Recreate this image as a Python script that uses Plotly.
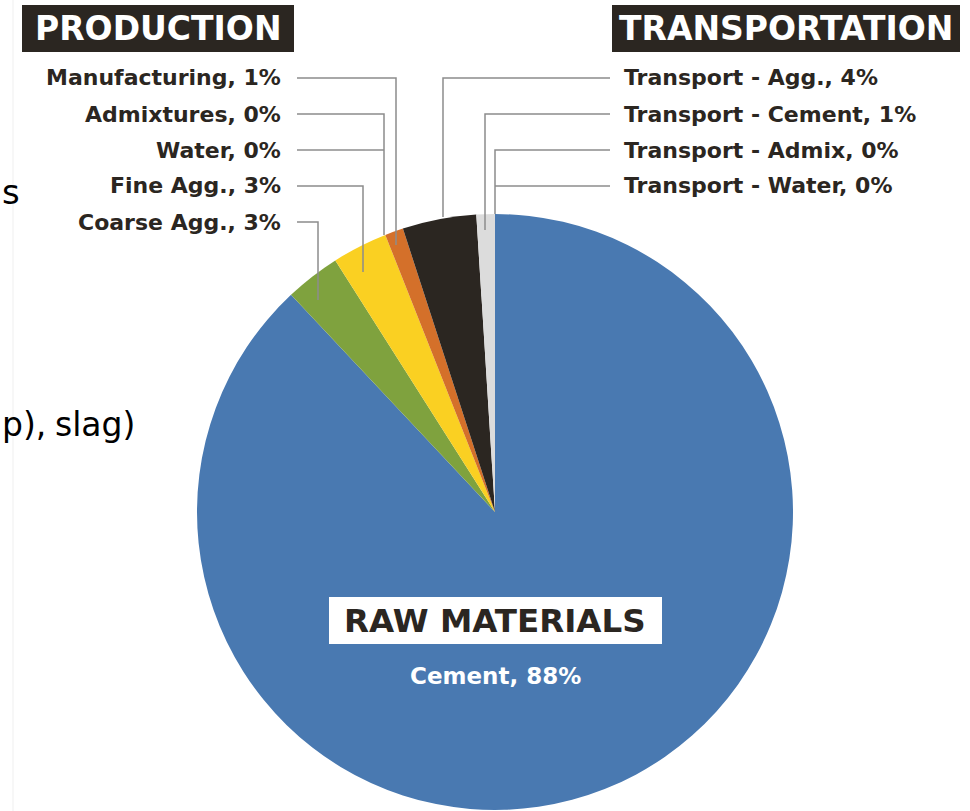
import plotly.graph_objects as go

# Embodied-carbon shares of a concrete mix, by source
categories = ["Cement", "Coarse Agg.", "Fine Agg.", "Water", "Admixtures",
              "Manufacturing", "Transport - Agg.", "Transport - Cement",
              "Transport - Admix", "Transport - Water"]
shares = [88, 3, 3, 0, 0, 1, 4, 1, 0, 0]
groups = ["RAW MATERIALS", "PRODUCTION", "PRODUCTION", "PRODUCTION", "PRODUCTION",
          "PRODUCTION", "TRANSPORTATION", "TRANSPORTATION", "TRANSPORTATION",
          "TRANSPORTATION"]
colors = ["#4979B1", "#7FA23E", "#FAD022", "#FAD022", "#FAD022",
          "#D4702A", "#2B2621", "#DCDCDC", "#DCDCDC", "#DCDCDC"]

# Order of the callouts in each column (top to bottom)
production_order = ["Manufacturing", "Admixtures", "Water", "Fine Agg.", "Coarse Agg."]
transport_order = ["Transport - Agg.", "Transport - Cement", "Transport - Admix",
                   "Transport - Water"]

W, H = 970, 811
INK = "#2B2621"
LEAD = "#8C8C8C"
FONT = "DejaVu Sans"


def px(x):
    return x / W


def py(y):
    return 1 - y / H


def label_of(name):
    return f"{name}, {shares[categories.index(name)]}%"


# Pie geometry (pixels)
CX, CY, R = 495, 512, 298

fig = go.Figure(go.Pie(
    labels=categories,
    values=shares,
    sort=False,
    direction="clockwise",
    rotation=0,
    marker=dict(colors=colors, line=dict(color="white", width=0)),
    textinfo="none",
    hovertemplate="%{label}: %{value}%<extra></extra>",
    showlegend=False,
    domain=dict(x=[px(CX - R), px(CX + R)], y=[py(CY + R), py(CY - R)]),
))

shapes = []
annotations = []

# Leader-line routing for the callouts: (row y, elbow x, end y)
prod_routes = {
    "Manufacturing": (78, 396, 245),
    "Admixtures": (114, 384, 235),
    "Water": (150, 384, None),
    "Fine Agg.": (186, 363, 272),
    "Coarse Agg.": (222, 318, 300),
}
trans_routes = {
    "Transport - Agg.": (78, 443, 217),
    "Transport - Cement": (114, 485, 230),
    "Transport - Admix": (150, 495, 214),
    "Transport - Water": (186, 495, None),
}


def leader(x0, y0, xe, ye):
    pts = [(x0, y0), (xe, y0)]
    if ye is not None:
        pts.append((xe, ye))
    path = "M " + " L ".join(f"{px(a):.5f},{py(b):.5f}" for a, b in pts)
    shapes.append(dict(type="path", xref="paper", yref="paper", path=path,
                       line=dict(color=LEAD, width=1.5), layer="above"))


for name in production_order:
    y, xe, ye = prod_routes[name]
    leader(297, y, xe, ye)
    annotations.append(dict(x=px(283), y=py(y), xref="paper", yref="paper",
                            text=label_of(name), showarrow=False,
                            xanchor="right", yanchor="middle",
                            font=dict(family=FONT, size=22, color=INK, weight="bold")))

for name in transport_order:
    y, xe, ye = trans_routes[name]
    leader(610, y, xe, ye)
    annotations.append(dict(x=px(622), y=py(y), xref="paper", yref="paper",
                            text=label_of(name), showarrow=False,
                            xanchor="left", yanchor="middle",
                            font=dict(family=FONT, size=22, color=INK, weight="bold")))


# Group headers: filled boxes with bold caps
def header(text, x0, x1, y0, y1, fill, fcolor, size):
    shapes.append(dict(type="rect", xref="paper", yref="paper",
                       x0=px(x0), x1=px(x1), y0=py(y1), y1=py(y0),
                       fillcolor=fill, line=dict(width=0), layer="above"))
    annotations.append(dict(x=px((x0 + x1) / 2), y=py((y0 + y1) / 2),
                            xref="paper", yref="paper", text=text,
                            showarrow=False, xanchor="center", yanchor="middle",
                            font=dict(family=FONT, size=size, color=fcolor,
                                      weight="bold")))


header("PRODUCTION", 22, 294, 5, 52, INK, "white", 33)
header("TRANSPORTATION", 612, 960, 5, 52, INK, "white", 33)
header(groups[0], 329, 662, 597, 644, "white", INK, 32.5)

annotations.append(dict(x=px(496), y=py(676), xref="paper", yref="paper",
                        text=label_of("Cement"), showarrow=False,
                        xanchor="center", yanchor="middle",
                        font=dict(family=FONT, size=23, color="white", weight="bold")))

# Edge of the neighbouring slide text and its divider
shapes.append(dict(type="line", xref="paper", yref="paper",
                   x0=px(13), x1=px(13), y0=0, y1=1,
                   line=dict(color="#EFEFEF", width=1), layer="below"))
annotations.append(dict(x=0, y=py(192), xref="paper", yref="paper",
                        text="s", showarrow=False, xanchor="left", yanchor="middle",
                        font=dict(family="DejaVu Sans", size=34, color="black")))
annotations.append(dict(x=0, y=py(424), xref="paper", yref="paper",
                        text="p),", showarrow=False, xanchor="left",
                        yanchor="middle",
                        font=dict(family="DejaVu Sans", size=33, color="black")))
annotations.append(dict(x=px(53), y=py(424), xref="paper", yref="paper",
                        text="slag)", showarrow=False, xanchor="left",
                        yanchor="middle",
                        font=dict(family="DejaVu Sans", size=33, color="black")))

fig.update_layout(
    width=W, height=H,
    margin=dict(l=0, r=0, t=0, b=0),
    paper_bgcolor="white",
    plot_bgcolor="white",
    shapes=shapes,
    annotations=annotations,
)

fig.write_html("out.html")
